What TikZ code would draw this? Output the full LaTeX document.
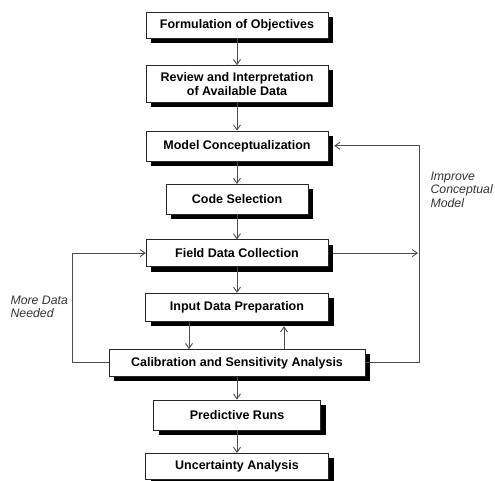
\documentclass[tikz,border=0pt]{standalone}
\usepackage{fontspec}
\setmainfont{Liberation Sans}
\usetikzlibrary{positioning}
\usetikzlibrary{shadows}
\usetikzlibrary{arrows.meta}

\begin{document}
\begin{tikzpicture}[
    x=1pt, y=-1pt,
    every node/.style={
        font=\bfseries\fontsize{12.5}{14}\selectfont % bold sans labels
    },
    stepbox/.style={
        draw=black!85, % thin dark border
        fill=white,
        align=center,
        minimum width=182pt,
        inner sep=2pt,
        drop shadow={shadow xshift=5pt, shadow yshift=-5pt, fill=black, opacity=1}
    },
    link/.style={draw=black!70, line width=0.9pt, -{Straight Barb[length=5pt,width=7pt]}},
    note/.style={font=\itshape\fontsize{12.3}{13.5}\selectfont, align=left, text=black!80}
]
\useasboundingbox (0,0) rectangle (495,480);

% main column
\node[stepbox, minimum height=26pt] (objectives) at (237,25) {Formulation of Objectives};
\node[stepbox, minimum height=37pt, below=27pt of objectives] (review) {Review and Interpretation\\of Available Data};
\node[stepbox, minimum height=30pt, below=28pt of review] (concept) {Model Conceptualization};
\node[stepbox, minimum height=30pt, minimum width=142pt, below=23pt of concept] (code) {Code Selection};
\node[stepbox, minimum height=27pt, below=25pt of code] (field) {Field Data Collection};
\node[stepbox, minimum height=28pt, minimum width=183pt, below=26pt of field] (input) {Input Data Preparation};
\node[stepbox, minimum height=27pt, minimum width=256pt, below=28pt of input] (calib) {Calibration and Sensitivity Analysis};
\node[stepbox, minimum height=30pt, minimum width=167pt, below=23pt of calib] (predict) {Predictive Runs};
\node[stepbox, minimum height=26pt, minimum width=183pt, below=23pt of predict] (uncert) {Uncertainty Analysis};

% side notes
\node[note, anchor=north west] (moredata) at (7,292) {More Data\\Needed};
\node[note, anchor=north west] (improve) at (427,168) {Improve\\Conceptual\\Model};

\coordinate (rloop) at (419,0);

% arrows
\draw[link] (objectives) -- (review);
\draw[link] (review) -- (concept);
\draw[link] (concept) -- (code);
\draw[link] (code) -- (field);
\draw[link] (field) -- (input);
\draw[link] ([xshift=-48pt]input.south) -- ([xshift=-48pt]input.south |- calib.north);
\draw[link] ([xshift=47pt]calib.north) -- ([xshift=47pt,yshift=-5pt]input.south);
\draw[link] (calib) -- (predict);
\draw[link] (predict) -- (uncert);

% feedback loops
\draw[link] (calib.west) -- ++(-36pt,0) |- (field.west);
\draw[link] (calib.east) -| (rloop |- concept.east) -- ([xshift=6pt]concept.east);
\draw[link] ([xshift=5pt]field.east) -- ([xshift=-1pt]field.east -| rloop);
\end{tikzpicture}
\end{document}
